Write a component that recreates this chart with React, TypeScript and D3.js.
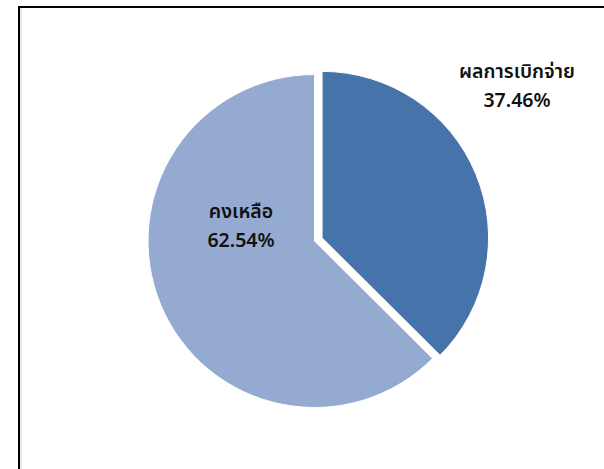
import React from "react";
import * as d3 from "d3";

const categories = ["ผลการเบิกจ่าย", "คงเหลือ"];
const values = [37.46, 62.54];
const valueLabels = ["37.46%", "62.54%"];
const colors = ["#4674AA", "#95AAD1"];
const exploded = [true, false];

const W = 604;
const H = 469;
const cx = 314.5;
const cy = 241;
const R = 166.5;
const explodeDist = 8.2;
// label anchor points (centre of the two-line label)
const labelAnchors = [
  { x: 517, y: 86 },
  { x: 241, y: 226 },
];

export default function App() {
  const pie = d3
    .pie<number>()
    .sort(null)
    .value((d) => d)
    .startAngle(0)
    .endAngle(2 * Math.PI);
  const arcs = pie(values);
  const arcGen = d3.arc<d3.PieArcDatum<number>>().innerRadius(0).outerRadius(R);
  const font = "'Noto Sans', 'Noto Sans Thai', Tahoma, sans-serif";

  return (
    <svg
      width={W}
      height={H}
      style={{ position: "absolute", left: 0, top: 0, background: "#fff" }}
    >
      <rect x={0} y={0} width={W} height={H} fill="#fff" />
      <rect x={19} y={7} width={640} height={500} fill="none" stroke="#000" strokeWidth={2} />
      <line x1={21} y1={8} x2={21} y2={H} stroke="#d0d0d0" strokeWidth={1} />
      <g transform={`translate(${cx},${cy})`}>
        {arcs.map((a, i) => {
          const mid = (a.startAngle + a.endAngle) / 2;
          const d = exploded[i] ? explodeDist : 0;
          const dx = Math.sin(mid) * d;
          const dy = -Math.cos(mid) * d;
          return (
            <path
              key={i}
              d={arcGen(a) || ""}
              transform={`translate(${dx},${dy})`}
              fill={colors[i]}
              stroke="#fff"
              strokeWidth={1}
            />
          );
        })}
      </g>
      {categories.map((c, i) => (
        <text
          key={i}
          x={labelAnchors[i].x}
          y={labelAnchors[i].y}
          textAnchor="middle"
          fontFamily={font}
          fontWeight={600}
          fontSize={19.5}
          fill="#111"
        >
          <tspan x={labelAnchors[i].x} dy={-8}>{c}</tspan>
          <tspan x={labelAnchors[i].x} dy={29}>{valueLabels[i]}</tspan>
        </text>
      ))}
    </svg>
  );
}
